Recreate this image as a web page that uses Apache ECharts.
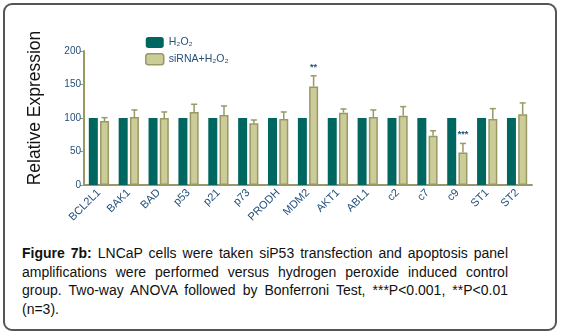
<!DOCTYPE html>
<html><head><meta charset="utf-8">
<script src="https://cdn.jsdelivr.net/npm/echarts@6/dist/echarts.min.js"></script>
<style>
html,body{margin:0;padding:0;background:#fff;}
#frame{position:absolute;left:3px;top:3px;width:550px;height:324px;border:2px solid #555;border-radius:9px;box-sizing:content-box;}
#chart{position:absolute;left:0;top:0;width:564px;height:240px;}
#cap{position:absolute;left:22px;top:244px;width:486px;font-family:"Liberation Sans",Arial,sans-serif;font-size:14px;line-height:18.7px;color:#111;}
#cap div{text-align:justify;text-align-last:justify;white-space:nowrap;}
#cap div.last{text-align-last:left;}
</style></head>
<body>
<div id="frame"></div>
<div id="chart"></div>
<div id="cap">
<div><b>Figure 7b:</b> LNCaP cells were taken siP53 transfection and apoptosis panel</div>
<div>amplifications were performed versus hydrogen peroxide induced control</div>
<div>group. Two-way ANOVA followed by Bonferroni Test, ***P&lt;0.001, **P&lt;0.01</div>
<div class="last">(n=3).</div>
</div>
<script>
const categories = ['BCL2L1','BAK1','BAD','p53','p21','p73','PRODH','MDM2','AKT1','ABL1','c2','c7','c9','ST1','ST2'];
const h2o2 = [100,100,100,100,100,100,100,100,100,100,100,100,100,100,100];
const sirna = [95.5,101.5,100,109,104.5,92,98.5,147,108,101.5,103.5,73.5,48.5,98.5,105.5];
const sirnaErr = [5,10.5,9,11.5,13.5,5,10.5,16,5.5,10.5,13.5,7.5,13.5,15.5,17];
const signif = ['','','','','','','','**','','','','','***','',''];
const yTicks = [0,50,100,150,200];

const chart = echarts.init(document.getElementById('chart'));
const olive = '#999966', teal = '#006660', tan = '#cccc99', txt = '#24507a';
chart.setOption({
  animation:false,
  textStyle:{fontFamily:'"Liberation Sans", Arial, sans-serif'},
  grid:{left:84,top:51,width:448,height:134,containLabel:false},
  legend:{orient:'vertical',left:140,top:32,itemWidth:18,itemHeight:11,itemGap:5,
    textStyle:{fontSize:10.5,color:txt},
    data:[{name:'H₂O₂',itemStyle:{color:teal,borderWidth:0}},{name:'siRNA+H₂O₂',itemStyle:{color:tan,borderColor:olive,borderWidth:1.5}}]},
  graphic:[{type:'text',x:35,y:108,rotation:Math.PI/2,
    style:{text:'Relative Expression',font:'17.5px "Liberation Sans", Arial, sans-serif',fill:'#111',textAlign:'center',textVerticalAlign:'middle'}}],
  xAxis:{type:'category',data:categories,
    axisLine:{lineStyle:{color:olive,width:2}},
    axisTick:{alignWithLabel:true,length:4,lineStyle:{color:olive}},
    axisLabel:{rotate:45,fontSize:11,color:txt,margin:6,interval:0}},
  yAxis:{type:'value',min:0,max:200,interval:50,
    axisLine:{show:true,lineStyle:{color:olive,width:2}},
    axisTick:{show:true,length:4,lineStyle:{color:olive}},
    splitLine:{show:false},
    axisLabel:{fontSize:10,color:txt,margin:3,formatter:v=>yTicks.includes(v)?String(v):''}},
  series:[
    {name:'H₂O₂',type:'bar',data:h2o2,barWidth:9,barGap:'25%',itemStyle:{color:teal}},
    {name:'siRNA+H₂O₂',type:'bar',data:sirna,barWidth:9,itemStyle:{color:tan,borderColor:olive,borderWidth:1.5}},
    {type:'custom',name:'err',data:sirna.map((v,i)=>[i,v,sirnaErr[i]]),z:1,
      renderItem:function(params,api){
        const i=api.value(0), v=api.value(1), e=api.value(2);
        const base=api.coord([i,v]);
        const top=api.coord([i,v+e]);
        const x=base[0]+5.6;
        const children=[
          {type:'line',shape:{x1:x,y1:base[1],x2:x,y2:top[1]},style:{stroke:olive,lineWidth:1.5}},
          {type:'line',shape:{x1:x-3,y1:top[1],x2:x+3,y2:top[1]},style:{stroke:olive,lineWidth:1.5}}
        ];
        const s=signif[i];
        if(s){children.push({type:'text',style:{text:s,x:x,y:top[1]-4,textAlign:'center',textVerticalAlign:'bottom',fill:txt,font:'bold 9px "Liberation Sans", Arial, sans-serif'}});}
        return {type:'group',children:children};
      }}
  ]
});
</script>
</body></html>
